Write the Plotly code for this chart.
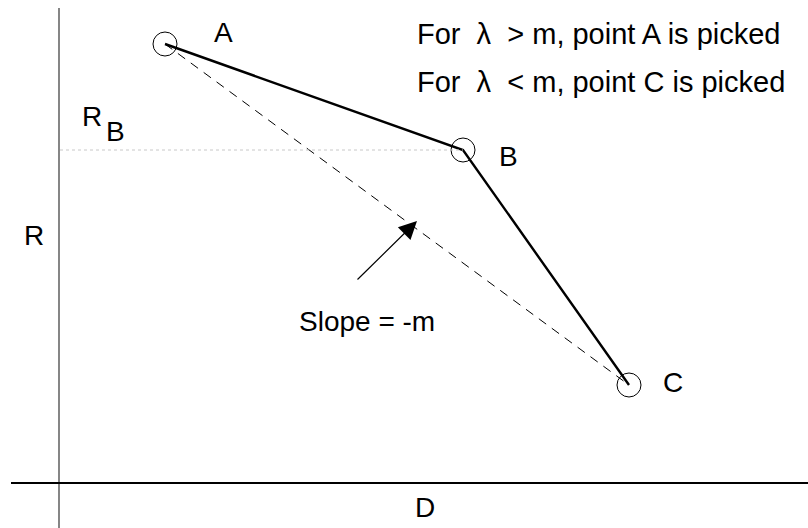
import plotly.graph_objects as go

# Operating points on the rate (R) / distortion (D) plane
points = ["A", "B", "C"]
dist = [1.06, 4.04, 5.70]
rate = [4.39, 3.33, 0.98]

top_lines = ["For  \u03bb  > m, point A is picked",
             "For  \u03bb  < m, point C is picked"]
slope_label = "Slope = -m"

FONT = "Liberation Sans, Arial, Helvetica, sans-serif"
XR = [-0.59, 7.49]
YR = [-0.45, 4.83]

fig = go.Figure()

# dashed chord A -> C
fig.add_trace(go.Scatter(
    x=[dist[0], dist[2]], y=[rate[0], rate[2]], mode="lines",
    line=dict(color="black", width=1, dash="9px,7px"), hoverinfo="skip"))

# convex hull A -> B -> C
fig.add_trace(go.Scatter(
    x=dist, y=rate, mode="lines",
    line=dict(color="black", width=2.4), hoverinfo="skip"))

# hollow circles on the points
fig.add_trace(go.Scatter(
    x=dist, y=rate, mode="markers",
    marker=dict(symbol="circle-open", size=24, color="black",
                line=dict(width=1, color="black")), hoverinfo="skip"))

shapes = [
    # R axis
    dict(type="line", xref="x", yref="y", x0=0, x1=0, y0=YR[0], y1=4.75,
         line=dict(color="#444", width=1.3)),
    # D axis
    dict(type="line", xref="x", yref="y", x0=-0.48, x1=XR[1], y0=0, y1=0,
         line=dict(color="black", width=2)),
    # R_B guide
    dict(type="line", xref="x", yref="y", x0=0.01, x1=dist[1], y0=rate[1], y1=rate[1],
         line=dict(color="#c8c8c8", width=1, dash="dot")),
]

ann = []
label_off = [(0.58, 0.12), (0.45, -0.06), (0.44, 0.03)]
for name, x, y, (dx, dy) in zip(points, dist, rate, label_off):
    ann.append(dict(x=x + dx, y=y + dy, text=name, showarrow=False))

ann += [
    dict(x=-0.25, y=2.48, text="R", showarrow=False),
    dict(x=3.66, y=-0.24, text="D", showarrow=False),
    dict(x=0.33, y=3.67, text="R", showarrow=False),
    dict(x=0.56, y=3.52, text="B", showarrow=False),
    dict(x=3.56, y=4.49, text=top_lines[0], showarrow=False, xanchor="left",
         font=dict(size=29)),
    dict(x=3.56, y=4.01, text=top_lines[1], showarrow=False, xanchor="left",
         font=dict(size=29)),
    dict(x=3.08, y=1.62, text=slope_label, showarrow=False),
    dict(x=3.58, y=2.62, ax=2.97, ay=2.02, axref="x", ayref="y", text="",
         showarrow=True, arrowhead=2, arrowsize=3, arrowwidth=1.2,
         arrowcolor="black", standoff=0, startstandoff=0),
]

fig.update_layout(
    width=808, height=528,
    margin=dict(l=0, r=0, t=0, b=0),
    paper_bgcolor="white", plot_bgcolor="white",
    showlegend=False,
    font=dict(family=FONT, size=28, color="black"),
    xaxis=dict(range=XR, visible=False, fixedrange=True),
    yaxis=dict(range=YR, visible=False, fixedrange=True),
    shapes=shapes, annotations=ann,
)

fig.write_html("out.html")
